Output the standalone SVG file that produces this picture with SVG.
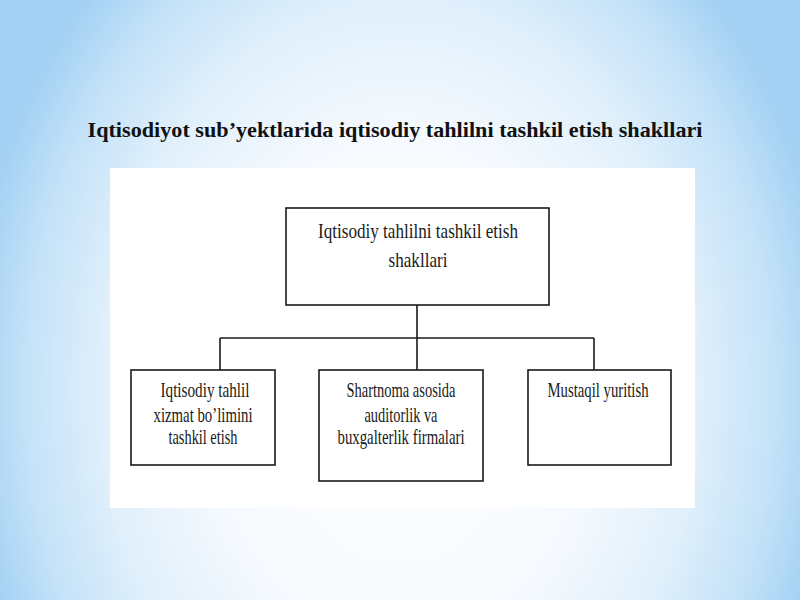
<svg xmlns="http://www.w3.org/2000/svg" width="800" height="600" viewBox="0 0 800 600">
<defs>
<radialGradient id="bg" gradientUnits="userSpaceOnUse" cx="400" cy="390" r="430" gradientTransform="translate(400 390) scale(1 1.3) translate(-400 -390)">
<stop offset="0" stop-color="#ffffff"/>
<stop offset="0.45" stop-color="#f6fafe"/>
<stop offset="0.7" stop-color="#dfeffb"/>
<stop offset="0.88" stop-color="#c2e1f8"/>
<stop offset="1" stop-color="#a5d2f4"/>
</radialGradient>
<style>
.box{fill:#ffffff;stroke:#1a1a1a;stroke-width:1.6}
.t{font-family:"Liberation Serif",serif;font-size:21px;fill:#1a1a1a;text-anchor:middle}
.con{fill:none;stroke:#1a1a1a;stroke-width:1.6}
</style>
</defs>
<rect x="0" y="0" width="800" height="600" fill="url(#bg)"/>
<text x="395" y="137" font-family="Liberation Serif, serif" font-size="22" font-weight="bold" fill="#111" text-anchor="middle" textLength="615" lengthAdjust="spacingAndGlyphs">Iqtisodiyot sub’yektlarida iqtisodiy tahlilni tashkil etish shakllari</text>
<rect x="110" y="168" width="585" height="340" fill="#ffffff"/>
<g id="connectors">
<path class="con" d="M417 305 V338 M220 338 H594 M220 338 V370 M417 338 V370 M594 338 V370"/>
</g>
<g id="root">
<rect class="box" x="286" y="208" width="263" height="97"/>
<text class="t" x="418" y="238" font-size="23" textLength="200" lengthAdjust="spacingAndGlyphs">Iqtisodiy tahlilni tashkil etish</text>
<text class="t" x="418" y="267" font-size="23" textLength="59" lengthAdjust="spacingAndGlyphs">shakllari</text>
</g>
<g id="n1">
<rect class="box" x="131" y="370" width="144" height="95"/>
<text class="t" x="205" y="397" textLength="89" lengthAdjust="spacingAndGlyphs">Iqtisodiy tahlil</text>
<text class="t" x="203" y="422" textLength="99" lengthAdjust="spacingAndGlyphs">xizmat bo’limini</text>
<text class="t" x="203" y="444" textLength="69" lengthAdjust="spacingAndGlyphs">tashkil etish</text>
</g>
<g id="n2">
<rect class="box" x="319" y="370" width="164" height="111"/>
<text class="t" x="401" y="397" textLength="109" lengthAdjust="spacingAndGlyphs">Shartnoma asosida</text>
<text class="t" x="401" y="422" textLength="73" lengthAdjust="spacingAndGlyphs">auditorlik va</text>
<text class="t" x="401" y="444" textLength="127" lengthAdjust="spacingAndGlyphs">buxgalterlik firmalari</text>
</g>
<g id="n3">
<rect class="box" x="528" y="370" width="143" height="95"/>
<text class="t" x="598" y="397" textLength="101" lengthAdjust="spacingAndGlyphs">Mustaqil yuritish</text>
</g>
</svg>
